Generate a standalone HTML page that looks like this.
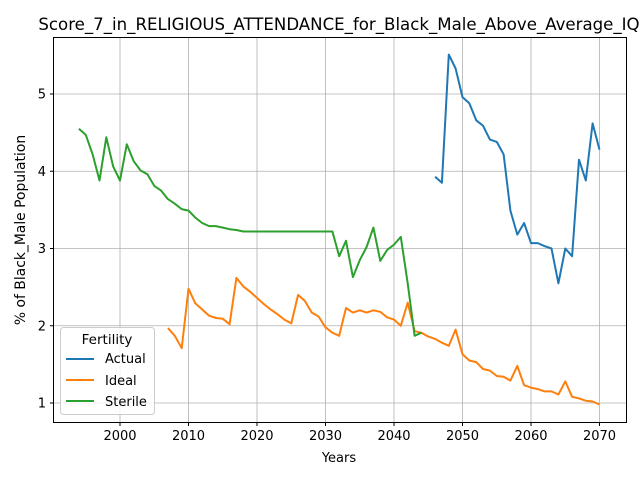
<!DOCTYPE html>
<html><head><meta charset="utf-8"><style>
body{margin:0;background:#fff;font-family:"Liberation Sans","DejaVu Sans",sans-serif}
svg text{font-family:"DejaVu Sans","Liberation Sans",sans-serif;fill:#000}
</style></head><body>
<svg id="chart" width="640" height="480" xmlns="http://www.w3.org/2000/svg">
<rect x="0" y="0" width="640" height="480" fill="#fff"/>
<g id="grid"></g>
<g id="series"></g>
<rect x="53.5" y="37.5" width="573" height="385" fill="none" stroke="#000" stroke-width="1"/>
<g id="ticks"></g>
<text x="339" y="30" font-size="16.6" text-anchor="middle">Score_7_in_RELIGIOUS_ATTENDANCE_for_Black_Male_Above_Average_IQ</text>
<text x="339" y="462" font-size="13" text-anchor="middle">Years</text>
<text transform="translate(25,230) rotate(-90)" font-size="13.9" text-anchor="middle">% of Black_Male Population</text>
<g>
<rect x="60.5" y="327.5" width="94" height="87" rx="3" fill="#fff" fill-opacity="0.8" stroke="#ccc"/>
<text x="107" y="344" font-size="13.5" text-anchor="middle">Fertility</text>
<line x1="66" y1="359" x2="94" y2="359" stroke="#1f77b4" stroke-width="2"/>
<text x="105" y="363" font-size="13">Actual</text>
<line x1="66" y1="380" x2="94" y2="380" stroke="#ff7f0e" stroke-width="2"/>
<text x="105" y="385" font-size="13">Ideal</text>
<line x1="66" y1="401" x2="94" y2="401" stroke="#2ca02c" stroke-width="2"/>
<text x="105" y="406" font-size="13">Sterile</text>
</g>
</svg>
<script>
const xTicks=[2000,2010,2020,2030,2040,2050,2060,2070];
const yTicks=[1,2,3,4,5];
const actualYears=[2046,2047,2048,2049,2050,2051,2052,2053,2054,2055,2056,2057,2058,2059,2060,2061,2062,2063,2064,2065,2066,2067,2068,2069,2070];
const actualValues=[3.93,3.85,5.51,5.33,4.96,4.88,4.66,4.59,4.41,4.38,4.22,3.49,3.18,3.33,3.07,3.07,3.03,3.00,2.55,3.00,2.90,4.15,3.88,4.62,4.28];
const idealStart=2007;
const idealValues=[1.97,1.87,1.71,2.48,2.29,2.21,2.13,2.10,2.09,2.02,2.62,2.51,2.44,2.36,2.28,2.21,2.15,2.08,2.03,2.40,2.32,2.17,2.12,1.98,1.91,1.87,2.23,2.17,2.20,2.17,2.20,2.18,2.11,2.08,2.00,2.30,1.93,1.91,1.86,1.83,1.78,1.74,1.95,1.63,1.55,1.53,1.44,1.42,1.35,1.34,1.29,1.48,1.23,1.20,1.18,1.15,1.15,1.11,1.28,1.08,1.06,1.03,1.02,0.98];
const sterileStart=1994;
const sterileValues=[4.55,4.47,4.22,3.88,4.44,4.06,3.88,4.35,4.13,4.01,3.96,3.81,3.75,3.64,3.58,3.51,3.49,3.40,3.33,3.29,3.29,3.27,3.25,3.24,3.22,3.22,3.22,3.22,3.22,3.22,3.22,3.22,3.22,3.22,3.22,3.22,3.22,3.22,2.90,3.10,2.63,2.85,3.02,3.27,2.84,2.98,3.05,3.15,2.55,1.87,1.91];
const xs=y=>120+(y-2000)*6.85;
const ys=v=>403-(v-1)*77.25;
const NS="http://www.w3.org/2000/svg";
const grid=document.getElementById('grid'),ticks=document.getElementById('ticks'),ser=document.getElementById('series');
function mk(tag,attrs,parent){const e=document.createElementNS(NS,tag);for(const k in attrs)e.setAttribute(k,attrs[k]);parent.appendChild(e);return e;}
xTicks.forEach(t=>{const x=xs(t);
 const g=mk('line',{x1:x,x2:x,y1:37.5,y2:422.5,stroke:'#b0b0b0','stroke-width':0.8},grid);
 
 
 mk('line',{x1:x,x2:x,y1:422.5,y2:426,stroke:'#000'},ticks);
 const tx=mk('text',{x:x,y:440,'font-size':13,'text-anchor':'middle'},ticks);tx.textContent=t;
 
 });
yTicks.forEach(t=>{const y=ys(t);
 const g=mk('line',{x1:53.5,x2:626.5,y1:y,y2:y,stroke:'#b0b0b0','stroke-width':0.8},grid);
 
 
 mk('line',{x1:50,x2:53.5,y1:y,y2:y,stroke:'#000'},ticks);
 const tx=mk('text',{x:46,y:y+4.5,'font-size':13,'text-anchor':'end'},ticks);tx.textContent=t;
 
 });
function line(years,vals,color,name){const pts=vals.map((v,i)=>xs(years[i]).toFixed(1)+','+ys(v).toFixed(1)).join(' ');
 const p=mk('polyline',{points:pts,fill:'none',stroke:color,'stroke-width':2,'stroke-linejoin':'round'},ser);
 
 }
line(actualYears,actualValues,'#1f77b4','actual-line');
line(idealValues.map((_,i)=>idealStart+i),idealValues,'#ff7f0e','ideal-line');
line(sterileValues.map((_,i)=>sterileStart+i),sterileValues,'#2ca02c','sterile-line');
</script>
</body></html>
